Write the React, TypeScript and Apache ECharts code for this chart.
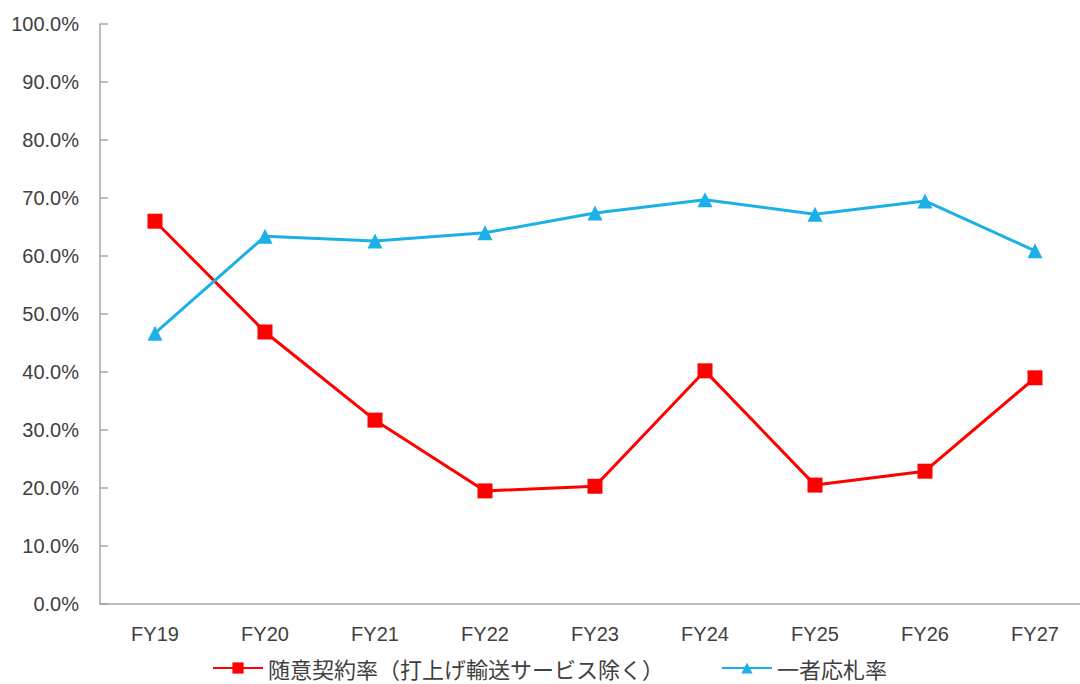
import React, { useEffect, useRef } from "react";
import * as echarts from "echarts";

const categories = ["FY19", "FY20", "FY21", "FY22", "FY23", "FY24", "FY25", "FY26", "FY27"];
const zuiiName = "随意契約率（打上げ輸送サービス除く）";
const zuiiValues = [66.0, 46.9, 31.7, 19.5, 20.3, 40.2, 20.5, 22.9, 39.0];
const ichishaName = "一者応札率";
const ichishaValues = [46.7, 63.4, 62.6, 64.0, 67.4, 69.7, 67.2, 69.5, 60.9];
const yTicks = { min: 0, max: 100, interval: 10 };

export default function App() {
  const ref = useRef<HTMLDivElement>(null);
  useEffect(() => {
    if (!ref.current) return;
    const chart = echarts.init(ref.current, undefined, { renderer: "svg" });
    const textColor = "#404040";
    const font = "'Liberation Sans', Arial, 'Noto Sans CJK JP', sans-serif";
    chart.setOption({
      animation: false,
      backgroundColor: "#ffffff",
      grid: {
        left: 100,
        top: 24,
        height: 580,
        width: 990,
        containLabel: false,
        outerBoundsMode: "none",
      },
      xAxis: {
        type: "category",
        data: categories,
        boundaryGap: true,
        axisLine: { show: true, lineStyle: { color: "#a6a6a6", width: 1.5 } },
        axisTick: { show: false },
        axisLabel: { color: textColor, fontSize: 20, fontFamily: font, margin: 20 },
        splitLine: { show: false },
      },
      yAxis: {
        type: "value",
        min: yTicks.min,
        max: yTicks.max,
        interval: yTicks.interval,
        axisLine: { show: true, lineStyle: { color: "#a6a6a6", width: 1.5 } },
        axisTick: { show: true, inside: true, length: 8, lineStyle: { color: "#a6a6a6", width: 1.5 } },
        axisLabel: {
          color: textColor,
          fontSize: 20,
          fontFamily: font,
          margin: 21,
          formatter: (v: number) => v.toFixed(1) + "%",
        },
        splitLine: { show: false },
      },
      legend: {
        left: 207,
        top: 652,
        itemWidth: 50,
        itemHeight: 14,
        itemGap: 57,
        textStyle: { color: textColor, fontSize: 22, fontFamily: "'Noto Sans CJK JP', sans-serif" },
        data: [zuiiName, ichishaName],
      },
      series: [
        {
          name: zuiiName,
          type: "line",
          data: zuiiValues,
          symbol: "rect",
          symbolSize: 15,
          lineStyle: { color: "#ff0000", width: 3 },
          itemStyle: { color: "#ff0000" },
        },
        {
          name: ichishaName,
          type: "line",
          data: ichishaValues,
          symbol: "triangle",
          symbolSize: 15,
          lineStyle: { color: "#1cb0e8", width: 3 },
          itemStyle: { color: "#1cb0e8" },
        },
      ],
    });
    return () => chart.dispose();
  }, []);
  return <div ref={ref} style={{ width: 1080, height: 684, position: "absolute", left: 0, top: 0 }} />;
}
